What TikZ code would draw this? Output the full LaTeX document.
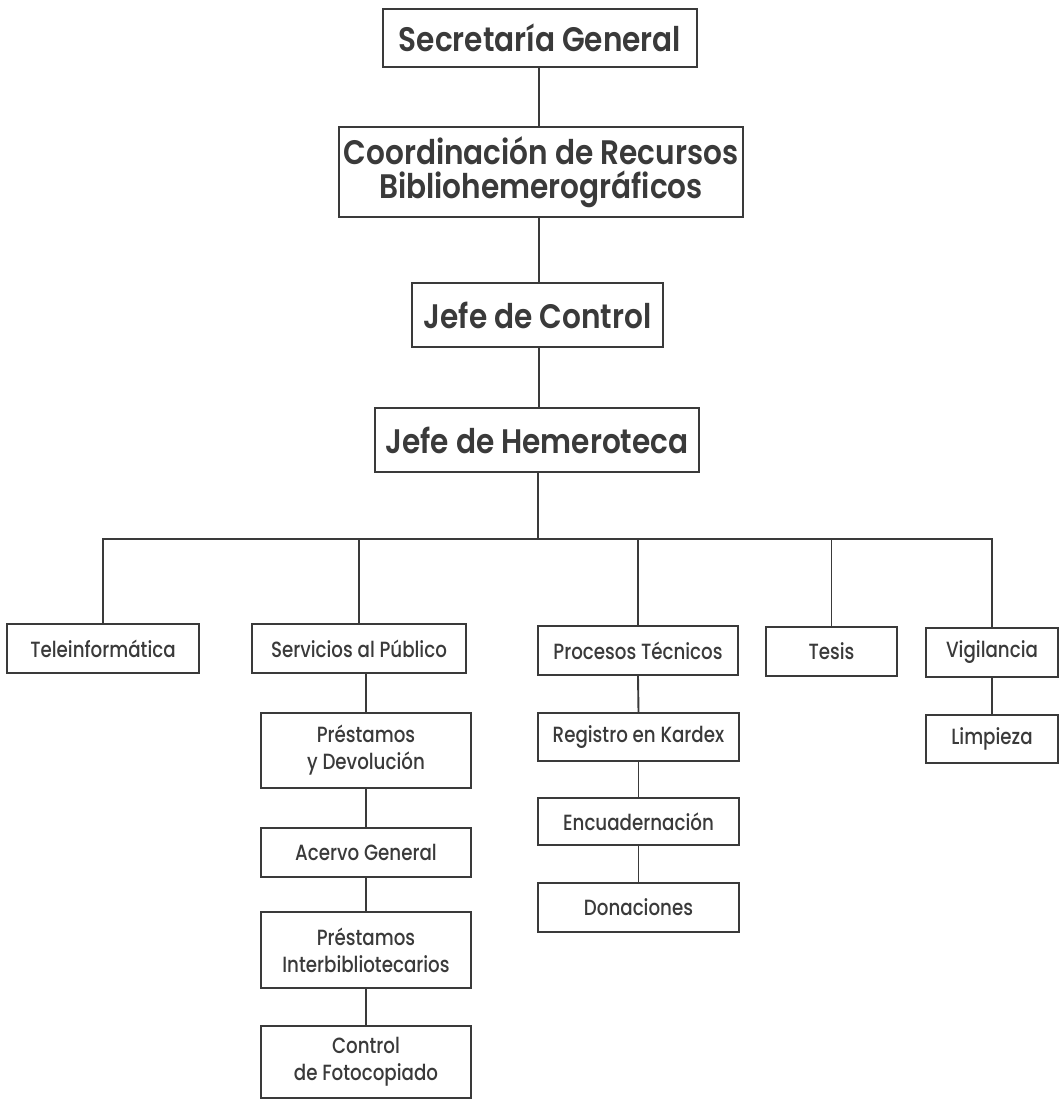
\documentclass[tikz,border=0pt]{standalone}
\usepackage{fontspec}
\setmainfont{Poppins}
\newfontfamily\bigfont{Poppins SemiBold}[FakeStretch=0.87]
\newfontfamily\smallfont{Poppins Medium}[FakeStretch=0.83]
\definecolor{ink}{HTML}{3A3A3A}
\begin{document}
\begin{tikzpicture}[x=1pt,y=-1pt,
  box/.style={draw=ink, line width=2.4pt, text=ink, inner sep=0pt, align=center},
  big/.style={box, font=\bigfont\fontsize{34}{34}\selectfont},
  small/.style={box, font=\smallfont\fontsize{22}{27}\selectfont},
  link/.style={draw=ink, line width=1.9pt}]
\useasboundingbox[fill=white] (0,0) rectangle (1062,1101);
% top chain
\node[big, minimum width=314pt, minimum height=58pt] (sec) at (540,38) {Secretaría General};
\node[big, minimum width=404pt, minimum height=90pt] (coord) at (541,172) {Coordinación de Recursos\\Bibliohemerográficos};
\node[big, minimum width=251pt, minimum height=64pt] (ctrl) at (537.5,315) {Jefe de Control};
\node[big, minimum width=324pt, minimum height=64pt] (hem) at (537,440) {Jefe de Hemeroteca};
% second level
\node[small, minimum width=192pt, minimum height=49pt] (tele) at (103,648.5) {Teleinformática};
\node[small, minimum width=214pt, minimum height=49pt] (serv) at (359,648.5) {Servicios al Público};
\node[small, minimum width=200pt, minimum height=49pt] (proc) at (638,650.5) {Procesos Técnicos};
\node[small, minimum width=131pt, minimum height=49pt] (tesis) at (831.5,651.5) {Tesis};
\node[small, minimum width=132pt, minimum height=49pt] (vig) at (992,652.5) {Vigilancia};
\node[small, minimum width=132pt, minimum height=48pt] (limp) at (992,739) {Limpieza};
% Procesos column
\node[small, minimum width=201pt, minimum height=48pt] (reg) at (638.5,737) {Registro en Kardex};
\node[small, minimum width=201pt, minimum height=47pt] (enc) at (638.5,821.5) {Encuadernación};
\node[small, minimum width=201pt, minimum height=49pt] (don) at (638.5,907.5) {Donaciones};
% Servicios column
\node[small, minimum width=210pt, minimum height=75pt] (pyd) at (366,750.5) {Préstamos\\y Devolución};
\node[small, minimum width=210pt, minimum height=49pt] (acer) at (366,852.5) {Acervo General};
\node[small, minimum width=210pt, minimum height=76pt] (pint) at (366,950) {Préstamos\\Interbibliotecarios};
\node[small, minimum width=210pt, minimum height=72pt] (foto) at (366,1062) {Control\\de Fotocopiado};
% connectors
\coordinate (bus) at (538,539);
\draw[link] (sec.south -| 539,0) -- (coord.north -| 539,0);
\draw[link] (coord.south -| 539,0) -- (ctrl.north -| 539,0);
\draw[link] (ctrl.south -| 539,0) -- (hem.north -| 539,0);
\draw[link] (hem.south -| bus) -- (bus);
\draw[link] (tele.north) -- (tele.north |- bus) -- (vig.north |- bus) -- (vig.north);
\draw[link] (serv.north) -- (serv.north |- bus);
\draw[link] (proc.north) -- (proc.north |- bus);
\draw[link] (tesis.north) -- (tesis.north |- bus);
\draw[link] (vig) -- (limp);
\draw[link] (proc.south) -- (reg.north);
\draw[link] (reg) -- (enc);
\draw[link] (enc) -- (don);
\draw[link] (serv.south -| pyd.north) -- (pyd.north);
\draw[link] (pyd) -- (acer);
\draw[link] (acer) -- (pint);
\draw[link] (pint) -- (foto);
\end{tikzpicture}
\end{document}
